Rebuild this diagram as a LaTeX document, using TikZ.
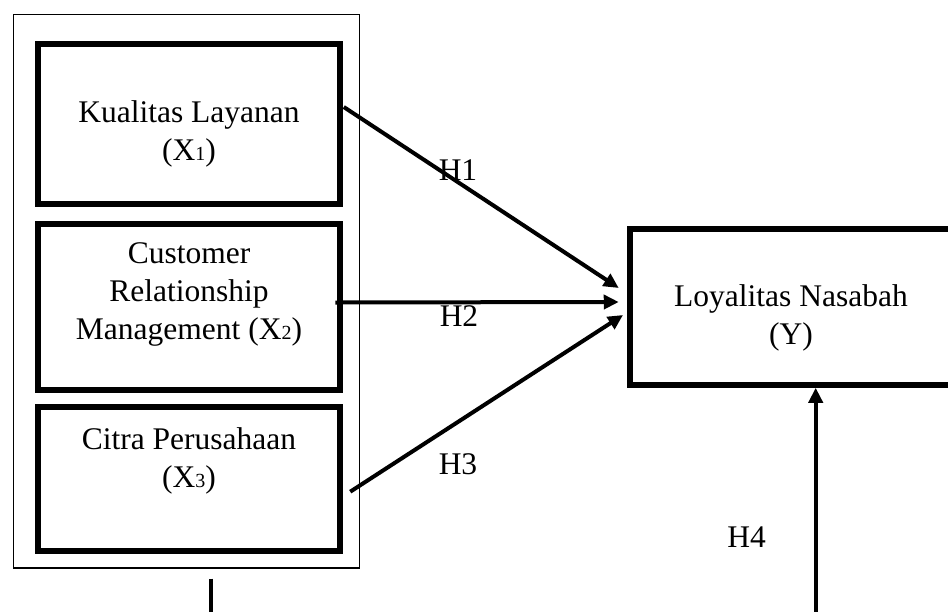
\documentclass[tikz,border=0pt]{standalone}
\usepackage{fontspec}
\setmainfont{Liberation Serif}
\usetikzlibrary{arrows.meta,calc}
\newcommand{\subidx}[1]{{\fontsize{20}{20}\selectfont #1}}

\begin{document}
\begin{tikzpicture}[x=1pt,y=-1pt,>={Triangle[length=15pt,width=14pt]},
  var/.style={draw,line width=5.5pt,minimum width=302pt,inner sep=0pt},
  txt/.style={align=center,inner sep=0pt,font=\fontsize{31.5}{38}\selectfont},
  hyp/.style={line width=4pt,->}]
  \clip (0,0) rectangle (948,611);
  \node[draw,line width=1.4pt,minimum width=346pt,minimum height=553.5pt,inner sep=0pt] (grp) at (186.5,291.25) {};
  \node[var,minimum height=160pt] (kl) at (189,124) {};
  \node[var,minimum height=166pt] (crm) at (189,307) {};
  \node[var,minimum height=144pt] (cp) at (189,479) {};
  \node[var,minimum width=324pt,minimum height=156pt] (ly) at (792,307) {};
  \node[txt] (klt) at ($(kl.center)+(0,10)$) {Kualitas Layanan\\(X\subidx{1})};
  \node[txt] (crmt) at ($(crm.center)+(0,-13)$) {Customer\\Relationship\\Management (X\subidx{2})};
  \node[txt] (cpt) at ($(cp.center)+(0,-18)$) {Citra Perusahaan\\(X\subidx{3})};
  \node[txt] (lyt) at ($(ly.center)+(-1,11)$) {Loyalitas Nasabah\\(Y)};
  \foreach \n/\x/\y in {1/458/170,2/459/316.5,3/458/464,4/746.7/537.3}
    \node[txt] (lab\n) at (\x,\y) {H\n};
  \draw[hyp] ($(kl.east)+(1,-17)$) -- ($(ly.west)+(-8.5,-19)$);
  \draw[hyp] ($(crm.east)+(-7.5,-4.5)$) -- ($(ly.west)+(-8.5,-5)$);
  \draw[hyp] ($(cp.east)+(7.5,12.7)$) -- ($(ly.west)+(-4.2,8)$);
  \coordinate (h4) at (815.7,615);
  \draw[hyp] (h4) -- (h4 |- ly.south);
  \coordinate (stub) at ($(grp.south)+(24,10)$);
  \draw[line width=4pt] (stub) -- ++(0,40);
\end{tikzpicture}
\end{document}
